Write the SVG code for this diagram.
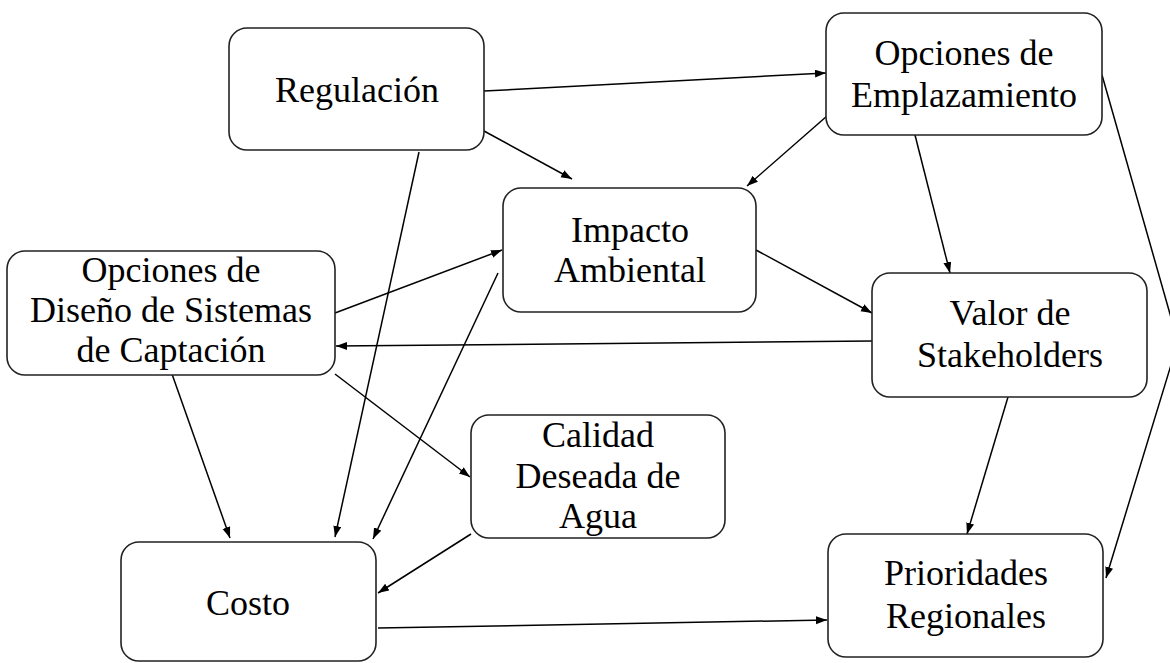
<svg xmlns="http://www.w3.org/2000/svg" width="1170" height="663" viewBox="0 0 1170 663">
<style>
.box{fill:#fff;stroke:#222;stroke-width:1.6}
.t{font-size:36px;fill:#000;text-anchor:middle}
.c{fill:none;stroke:#000;stroke-width:1.5}
</style>
<defs>
<marker id="ah" markerUnits="userSpaceOnUse" markerWidth="12" markerHeight="10" refX="11" refY="4" orient="auto">
<path d="M0,0 L11,4 L0,8 Z" fill="#000"/>
</marker>
</defs>
<rect width="1170" height="663" fill="#fff"/>
<g id="connectors">
<line class="c" x1="484" y1="91" x2="826" y2="73" marker-end="url(#ah)"/>
<line class="c" x1="484" y1="131" x2="572" y2="179" marker-end="url(#ah)"/>
<line class="c" x1="827" y1="116" x2="747" y2="186" marker-end="url(#ah)"/>
<line class="c" x1="915" y1="135" x2="950" y2="273" marker-end="url(#ah)"/>
<polyline class="c" points="1102,75 1178,342 1106,578" marker-end="url(#ah)"/>
<line class="c" x1="335" y1="313" x2="502" y2="250" marker-end="url(#ah)"/>
<line class="c" x1="872" y1="341" x2="336" y2="346" marker-end="url(#ah)"/>
<line class="c" x1="335" y1="374" x2="470" y2="477" marker-end="url(#ah)"/>
<line class="c" x1="419" y1="152" x2="335" y2="537" marker-end="url(#ah)"/>
<line class="c" x1="498" y1="273" x2="373" y2="539" marker-end="url(#ah)"/>
<line class="c" x1="172" y1="374" x2="230" y2="538" marker-end="url(#ah)"/>
<line class="c" x1="471" y1="534" x2="378" y2="593" marker-end="url(#ah)"/>
<line class="c" x1="378" y1="628" x2="827" y2="620" marker-end="url(#ah)"/>
<line class="c" x1="756" y1="250" x2="872" y2="313" marker-end="url(#ah)"/>
<line class="c" x1="1008" y1="397" x2="967" y2="534" marker-end="url(#ah)"/>
</g>
<g font-family="'Liberation Serif', 'DejaVu Serif', serif">
<g id="regulacion">
<rect class="box" x="229" y="28" width="255" height="122" rx="18"/>
<text class="t" x="357" y="102">Regulación</text>
</g>
<g id="emplazamiento">
<rect class="box" x="826" y="13" width="276" height="122" rx="18"/>
<text class="t" x="964" y="65">Opciones de</text>
<text class="t" x="964" y="107">Emplazamiento</text>
</g>
<g id="impacto">
<rect class="box" x="503" y="188" width="253" height="124" rx="18"/>
<text class="t" x="630" y="242">Impacto</text>
<text class="t" x="630" y="282">Ambiental</text>
</g>
<g id="diseno">
<rect class="box" x="7" y="251" width="328" height="124" rx="18"/>
<text class="t" x="171" y="282">Opciones de</text>
<text class="t" x="171" y="322">Diseño de Sistemas</text>
<text class="t" x="171" y="362">de Captación</text>
</g>
<g id="valor">
<rect class="box" x="872" y="273" width="275" height="124" rx="18"/>
<text class="t" x="1010" y="325">Valor de</text>
<text class="t" x="1010" y="367">Stakeholders</text>
</g>
<g id="calidad">
<rect class="box" x="471" y="415" width="254" height="123" rx="18"/>
<text class="t" x="598" y="447">Calidad</text>
<text class="t" x="598" y="488">Deseada de</text>
<text class="t" x="598" y="528">Agua</text>
</g>
<g id="costo">
<rect class="box" x="121" y="542" width="255" height="119" rx="18"/>
<text class="t" x="248" y="615">Costo</text>
</g>
<g id="prioridades">
<rect class="box" x="828" y="534" width="275" height="123" rx="18"/>
<text class="t" x="966" y="585">Prioridades</text>
<text class="t" x="966" y="628">Regionales</text>
</g>
</g>
</svg>
